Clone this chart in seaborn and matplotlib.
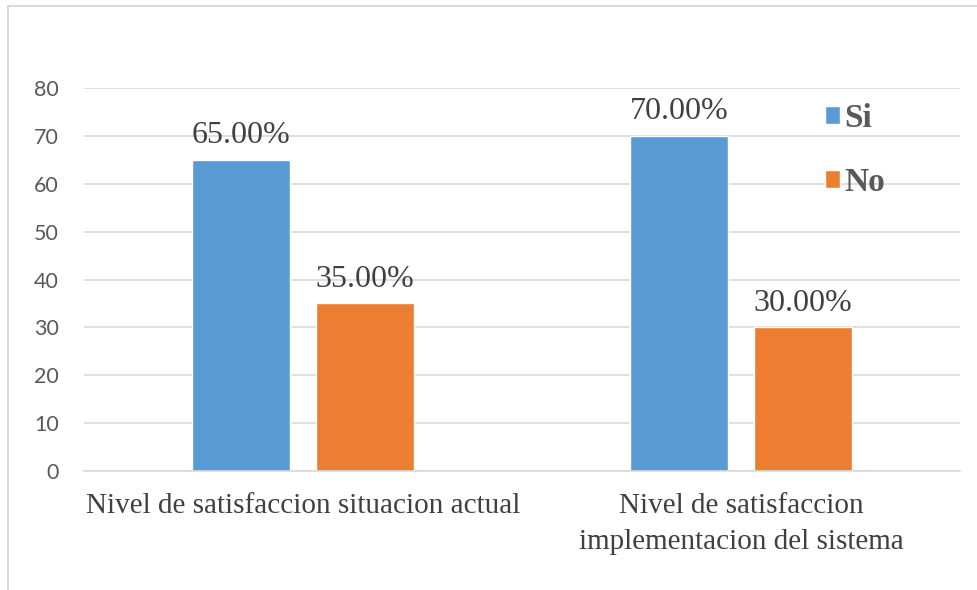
import pandas as pd
import matplotlib
matplotlib.use('Agg')
import matplotlib.pyplot as plt
import matplotlib.patches as mpatches
import seaborn as sns

# Datos del gráfico
categorias = ["Nivel de satisfaccion situacion actual",
              "Nivel de satisfaccion\nimplementacion del sistema"]
respuestas = ["Si", "No"]
valores_si = [65, 70]
valores_no = [35, 30]
colores = ["#5B9BD5", "#ED7D31"]

df = pd.DataFrame({
    "categoria": categorias * 2,
    "respuesta": ["Si"] * len(categorias) + ["No"] * len(categorias),
    "valor": valores_si + valores_no,
})

sns.set_theme(style="white")
fig = plt.figure(figsize=(9.78, 5.9), dpi=100)
ax = fig.add_axes([0.0859, 0.2017, 0.8957, 0.6491])

sns.barplot(data=df, x="categoria", y="valor", hue="respuesta",
            palette=colores, width=0.566, gap=0.21, ax=ax,
            saturation=1, legend=True)

# Etiquetas de valores
for cont in ax.containers:
    ax.bar_label(cont, fmt="{:.2f}%", padding=7, fontsize=23,
                 family="Liberation Serif", color="#404040")

ax.set_ylim(0, 80)
ax.set_yticks(range(0, 81, 10))
ax.grid(axis="y", color="#d9d9d9", linewidth=1.2)
ax.set_axisbelow(True)
for s in ["top", "right", "left"]:
    ax.spines[s].set_visible(False)
ax.spines["bottom"].set_color("#d9d9d9")
ax.spines["bottom"].set_linewidth(1.2)
ax.tick_params(axis="y", length=0, pad=18, labelsize=15.5, labelcolor="#595959")
ax.tick_params(axis="x", length=0, pad=16)
for lbl in ax.get_yticklabels():
    lbl.set_family("Lato")
for lbl in ax.get_xticklabels():
    lbl.set_family("Liberation Serif")
    lbl.set_fontsize(21)
    lbl.set_color("#404040")
    lbl.set_linespacing(1.5)
ax.set_xlabel("")
ax.set_ylabel("")

# Leyenda
handles, labels = ax.get_legend_handles_labels()
leg = ax.legend(handles, labels, loc="upper left", bbox_to_anchor=(0.812, 1.04),
                frameon=False, handlelength=0.45, handleheight=0.45,
                handletextpad=0.12, labelspacing=1.0,
                prop={"family": "Liberation Serif", "weight": "bold", "size": 24})
for t in leg.get_texts():
    t.set_color("#595959")

# Borde del área del gráfico
borde = mpatches.Rectangle((8 / 978, -0.2), 1.2, 1.2 - 6 / 590,
                           transform=fig.transFigure, fill=False,
                           edgecolor="#d9d9d9", linewidth=1.5)
fig.patches.append(borde)

fig.savefig("out.png", dpi=100)
